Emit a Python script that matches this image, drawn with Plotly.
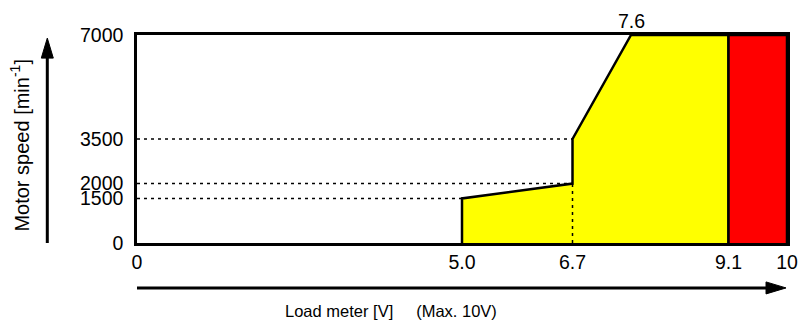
import plotly.graph_objects as go

# operating region boundary (load meter V vs motor speed)
zone_x = [5.0, 5.0, 6.7, 6.7, 7.6, 9.1, 9.1]
zone_y = [0, 1500, 2000, 3500, 7000, 7000, 0]
red_x = [9.1, 9.1, 10, 10]
red_y = [0, 7000, 7000, 0]

x_ticks = [0, 5.0, 6.7, 9.1, 10]
x_ticktext = ["0", "5.0", "6.7", "9.1", "10"]
y_ticks = [0, 1500, 2000, 3500, 7000]

# dotted guides: (x0, x1, y0, y1)
guides = [(0, 5.0, 1500, 1500), (0, 6.7, 2000, 2000), (0, 6.7, 3500, 3500), (6.7, 6.7, 0, 2000)]

FONT = "Arial, Liberation Sans, sans-serif"

fig = go.Figure()
fig.add_trace(go.Scatter(x=zone_x, y=zone_y, fill="toself", fillcolor="#ffff00",
                         mode="lines", line=dict(color="black", width=2.5), hoverinfo="skip"))
fig.add_trace(go.Scatter(x=red_x, y=red_y, fill="toself", fillcolor="#ff0000",
                         mode="lines", line=dict(color="black", width=2.5), hoverinfo="skip"))
for x0, x1, y0, y1 in guides:
    fig.add_trace(go.Scatter(x=[x0, x1], y=[y0, y1], mode="lines",
                             line=dict(color="black", width=1.5, dash="3px,4px"), hoverinfo="skip"))

fig.add_annotation(x=7.6, y=7000, text="7.6", showarrow=False, xanchor="center",
                   yanchor="bottom", yshift=1, font=dict(size=19.5))

# axis arrows
fig.add_shape(type="line", xref="paper", yref="paper", x0=-0.138, x1=-0.138, y0=0, y1=0.93,
              line=dict(color="black", width=3))
fig.add_shape(type="path", xref="paper", yref="paper", xsizemode="pixel", ysizemode="pixel",
              xanchor=-0.138, yanchor=0.985, path="M -6 -20 L 6 -20 L 0 0 Z",
              fillcolor="black", line=dict(color="black", width=1))
fig.add_shape(type="line", xref="paper", yref="paper", x0=0, x1=0.97, y0=-0.216, y1=-0.216,
              line=dict(color="black", width=3))
fig.add_shape(type="path", xref="paper", yref="paper", xsizemode="pixel", ysizemode="pixel",
              xanchor=0.9985, yanchor=-0.216, path="M -20 -6 L -20 6 L 0 0 Z",
              fillcolor="black", line=dict(color="black", width=1))

fig.add_annotation(xref="paper", yref="paper", x=-0.181, y=0.47, textangle=-90,
                   xanchor="center", yanchor="middle",
                   text="Motor speed [min<sup>-1</sup>]", showarrow=False, font=dict(size=20))
fig.add_annotation(xref="paper", yref="paper", x=0.39, y=-0.327,
                   xanchor="center", yanchor="middle",
                   text="Load meter [V]&nbsp;&nbsp;&nbsp;&nbsp;&nbsp;(Max. 10V)", showarrow=False,
                   font=dict(size=16.5))

# the photographed page comes out ~1% narrower, so the figure is a bit wider to compensate
fig.update_layout(
    width=810, height=325,
    margin=dict(l=136.5, r=14, t=35, b=82),
    showlegend=False,
    plot_bgcolor="white", paper_bgcolor="white",
    font=dict(family=FONT, color="black", size=19.5),
    xaxis=dict(range=[0, 10], tickvals=x_ticks, ticktext=x_ticktext, showgrid=False,
               zeroline=False, showline=True, mirror=True, linecolor="black", linewidth=2.5,
               ticks="", ticklabelstandoff=0, fixedrange=True),
    yaxis=dict(range=[0, 7000], tickvals=y_ticks, showgrid=False, zeroline=False,
               showline=True, mirror=True, linecolor="black", linewidth=2.5,
               ticks="", ticklabelstandoff=7, fixedrange=True),
)

# no body margin and no scrollbars, so the figure fills the window exactly
page_css = ("document.body.style.margin='0';"
            "document.documentElement.style.overflow='hidden';"
            "document.body.style.overflow='hidden';")
fig.write_html("out.html", config={"displayModeBar": False}, post_script=page_css)
